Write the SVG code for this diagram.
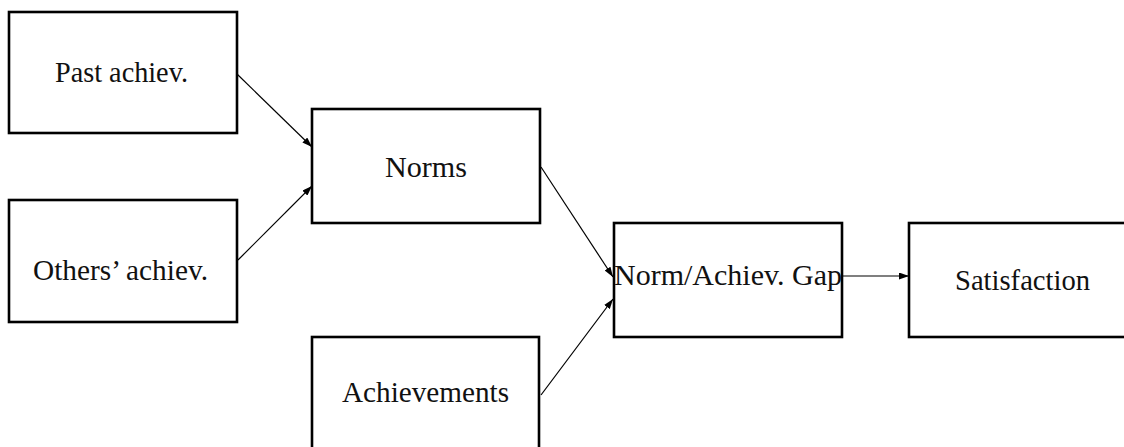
<svg xmlns="http://www.w3.org/2000/svg" width="1124" height="447" viewBox="0 0 1124 447">
<style>
.box{fill:#fff;stroke:#000;stroke-width:2.6}
.lbl{font-family:"Liberation Serif","Times New Roman",serif;font-size:29px;fill:#111;text-anchor:middle}
.edge{fill:none;stroke:#000;stroke-width:1.2;marker-end:url(#ah)}
</style>
<defs>
<marker id="ah" viewBox="0 0 10 6" refX="10" refY="3" markerWidth="10" markerHeight="7" markerUnits="userSpaceOnUse" orient="auto" preserveAspectRatio="none">
<path d="M0,0 L10,3 L0,6 Z" fill="#000"/>
</marker>
</defs>
<rect width="1124" height="447" fill="#fff"/>
<g id="past">
<rect class="box" x="9" y="12" width="228" height="121"/>
<text class="lbl" x="121.5" y="82" textLength="133" lengthAdjust="spacingAndGlyphs">Past achiev.</text>
</g>
<g id="others">
<rect class="box" x="9" y="200" width="228" height="122"/>
<text class="lbl" x="120.5" y="280" textLength="175" lengthAdjust="spacingAndGlyphs">Others’ achiev.</text>
</g>
<g id="norms">
<rect class="box" x="312" y="109" width="228" height="114"/>
<text class="lbl" x="426" y="177" textLength="82" lengthAdjust="spacingAndGlyphs">Norms</text>
</g>
<g id="achievements">
<rect class="box" x="312" y="337" width="227" height="120"/>
<text class="lbl" x="425.5" y="402" textLength="167" lengthAdjust="spacingAndGlyphs">Achievements</text>
</g>
<g id="gap">
<rect class="box" x="614" y="223" width="228" height="114"/>
<text class="lbl" x="728" y="285" textLength="228" lengthAdjust="spacingAndGlyphs">Norm/Achiev. Gap</text>
</g>
<g id="satisfaction">
<rect class="box" x="909" y="223" width="228" height="114"/>
<text class="lbl" x="1022.5" y="290" textLength="135" lengthAdjust="spacingAndGlyphs">Satisfaction</text>
</g>
<g id="connectors">
<line class="edge" x1="237" y1="74" x2="312" y2="147"/>
<line class="edge" x1="238" y1="260" x2="312" y2="186"/>
<line class="edge" x1="541" y1="167" x2="613" y2="277"/>
<line class="edge" x1="541" y1="395" x2="613" y2="299"/>
<line class="edge" x1="842" y1="276" x2="909" y2="276"/>
</g>
</svg>
